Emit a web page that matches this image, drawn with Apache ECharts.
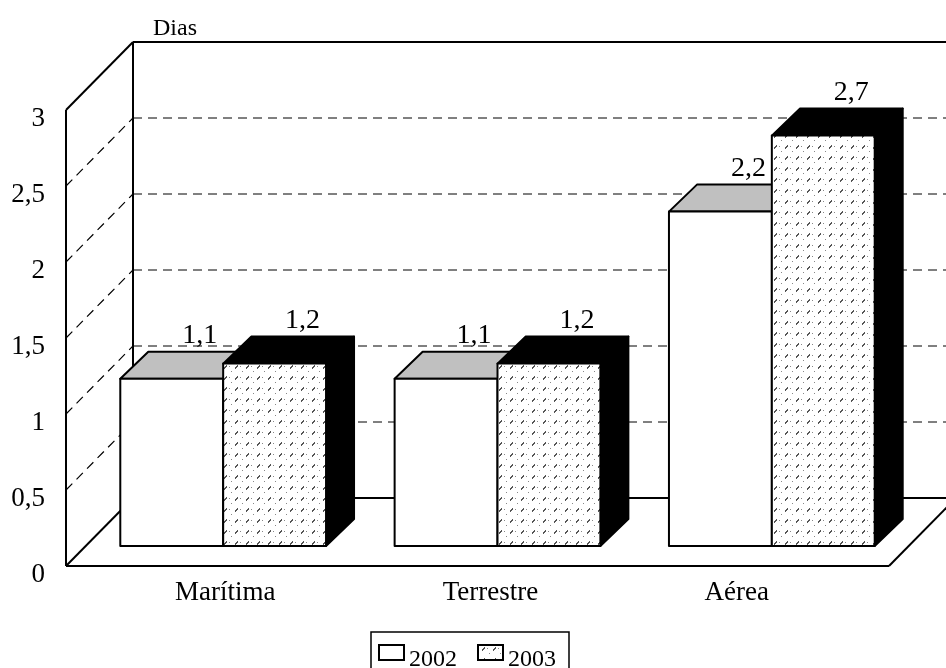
<!DOCTYPE html>
<html><head><meta charset="utf-8">
<style>html,body{margin:0;padding:0;background:#fff}#c{width:946px;height:668px}</style>
<script src="https://cdn.jsdelivr.net/npm/echarts@6/dist/echarts.min.js"></script>
</head><body><div id="c"></div>
<script>
const categories = ['Marítima', 'Terrestre', 'Aérea'];
const values2002 = [1.1, 1.1, 2.2];
const values2003 = [1.2, 1.2, 2.7];
const yTicks = [0, 0.5, 1, 1.5, 2, 2.5, 3];
const seriesNames = ['2002', '2003'];

const FONT = '"Liberation Serif","Times New Roman",serif';
const WALL = [67, -68];   // depth of the side walls
const FRONT = [20, -20];  // bars' front plane relative to the axis plane
const DEPTH = [28, -27];  // bar depth
const catShift = {0: [0, 0, 0, 44], 1: [0, 0, 0, 26], 2: [0, 30, 0, 0]};

function makeTile() {
  const c = document.createElement('canvas');
  c.width = 11; c.height = 11;
  const x = c.getContext('2d');
  x.fillStyle = '#fff'; x.fillRect(0, 0, 11, 11);
  x.fillStyle = '#555';
  x.fillRect(6, 2, 1, 1); x.fillRect(5, 3, 2, 1); x.fillRect(4, 4, 2, 1); x.fillRect(4, 5, 1, 1);
  x.fillStyle = '#888';
  x.fillRect(0, 8, 1, 1); x.fillRect(9, 3, 1, 1);
  return c;
}
const tile = {image: makeTile(), repeat: 'repeat'};

const fmt = v => String(v).replace('.', ',');
const shift = (p, d) => [p[0] + d[0], p[1] + d[1]];
const lineStyleSolid = {stroke: '#000', lineWidth: 2};
const lineStyleDash = {stroke: '#000', lineWidth: 1, lineDash: [9, 6]};
const lineStyleDiag = {stroke: '#000', lineWidth: 1.2, lineDash: [9, 6]};

function renderWalls(params, api) {
  const v = api.value(0);
  const cs = params.coordSys;
  const a = [cs.x, api.coord([0, v])[1]];
  const b = shift(a, WALL);
  const end = [b[0] + cs.width, b[1]];
  const solid = v === 0 || v === 3;
  const children = [
    {type: 'line', shape: {x1: a[0], y1: a[1], x2: b[0], y2: b[1]}, style: solid ? lineStyleSolid : lineStyleDiag},
    {type: 'line', shape: {x1: b[0], y1: b[1], x2: end[0], y2: end[1]}, style: solid ? lineStyleSolid : lineStyleDash}
  ];
  if (v === 0) {
    const top = api.coord([0, 3])[1];
    children.push({type: 'line', shape: {x1: a[0], y1: a[1], x2: a[0], y2: top}, style: lineStyleSolid});
    children.push({type: 'line', shape: {x1: b[0], y1: b[1], x2: b[0], y2: top + WALL[1]}, style: lineStyleSolid});
    children.push({type: 'line', shape: {x1: a[0], y1: a[1], x2: a[0] + cs.width, y2: a[1]}, style: lineStyleSolid});
    children.push({type: 'line', shape: {x1: a[0] + cs.width, y1: a[1], x2: end[0], y2: end[1]}, style: lineStyleSolid});
  }
  return {type: 'group', children};
}

function barRenderer(seriesIdx, topColor, sideColor, frontFill) {
  return function (params, api) {
    const idx = api.value(0), val = api.value(1);
    const band = api.size([1, 0])[0];
    const w = band * 0.375;
    const c = api.coord([idx, 0]);
    const t = api.coord([idx, val]);
    const xL = c[0] + FRONT[0] + (seriesIdx === 0 ? -w : 0);
    const xR = xL + w;
    const yB = c[1] + FRONT[1];
    const yT = t[1] + FRONT[1];
    const stroke = {stroke: '#000', lineWidth: 2, lineJoin: 'round'};
    return {type: 'group', children: [
      {type: 'polygon', shape: {points: [[xR, yB], shift([xR, yB], DEPTH), shift([xR, yT], DEPTH), [xR, yT]]},
       style: Object.assign({fill: sideColor}, stroke)},
      {type: 'polygon', shape: {points: [[xL, yT], [xR, yT], shift([xR, yT], DEPTH), shift([xL, yT], DEPTH)]},
       style: Object.assign({fill: topColor}, stroke)},
      {type: 'rect', shape: {x: xL, y: yT, width: w, height: yB - yT},
       style: Object.assign({fill: frontFill}, stroke)},
      {type: 'text', x: (xL + xR) / 2 + DEPTH[0], y: yT + DEPTH[1] - 16,
       style: {text: fmt(val), font: '28px ' + FONT, fill: '#000', align: 'center', verticalAlign: 'middle'}}
    ]};
  };
}

const option = {
  animation: false,
  backgroundColor: '#fff',
  title: {text: 'Dias', left: 153, top: 17, padding: 0,
    textStyle: {fontFamily: FONT, fontSize: 24, fontWeight: 'normal', color: '#000'}},
  legend: {
    left: 371, top: 632, orient: 'horizontal',
    padding: [12, 13, 0, 7],
    borderColor: '#000', borderWidth: 1.5, backgroundColor: '#fff',
    itemWidth: 25, itemHeight: 15, itemGap: 20, icon: 'rect',
    data: seriesNames,
    selectedMode: false,
    formatter: n => `{t|${n}}`,
    textStyle: {rich: {t: {fontFamily: FONT, fontSize: 24, color: '#000', padding: [14, 0, 0, 0]}}}
  },
  grid: {left: 66, top: 110, width: 823, height: 456},
  xAxis: {
    type: 'category', data: categories,
    axisLine: {show: false}, axisTick: {show: false},
    axisLabel: {
      margin: 13, interval: 0,
      formatter: (v, i) => `{c${i}|${v}}`,
      rich: Object.fromEntries(categories.map((_, i) => ['c' + i, {
        fontFamily: FONT, fontSize: 27, color: '#000', padding: catShift[i]}]))
    }
  },
  yAxis: {
    type: 'value', min: 0, max: 3, interval: 0.5,
    axisLine: {show: false}, axisTick: {show: false}, splitLine: {show: false},
    axisLabel: {margin: 21, formatter: v => `{y|${fmt(v)}}`,
      rich: {y: {fontFamily: FONT, fontSize: 27, color: '#000', padding: [18, 0, 0, 0]}}}
  },
  series: [
    {type: 'custom', name: 'walls', silent: true, clip: false, z: 1,
     encode: {x: -1, y: 0}, data: yTicks.map(v => [v]), renderItem: renderWalls},
    {type: 'custom', name: seriesNames[0], z: 2, clip: false,
     itemStyle: {color: '#fff', borderColor: '#000', borderWidth: 1.5},
     encode: {x: 0, y: 1}, data: values2002.map((v, i) => [i, v]),
     renderItem: barRenderer(0, '#c0c0c0', '#c0c0c0', '#fff')},
    {type: 'custom', name: seriesNames[1], z: 3, clip: false,
     itemStyle: {color: tile, borderColor: '#000', borderWidth: 1},
     encode: {x: 0, y: 1}, data: values2003.map((v, i) => [i, v]),
     renderItem: barRenderer(1, '#000', '#000', tile)}
  ]
};
echarts.init(document.getElementById('c'), null, {renderer: 'canvas'}).setOption(option);
</script></body></html>
